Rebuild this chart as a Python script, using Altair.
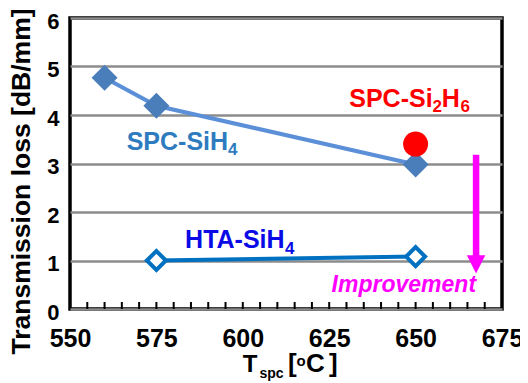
import altair as alt
import pandas as pd

# ---- data ----
spc_sih4_temp = [560, 575, 650]
spc_sih4_loss = [4.77, 4.19, 2.98]
hta_sih4_temp = [575, 650]
hta_sih4_loss = [1.0, 1.08]
spc_si2h6_temp = [650]
spc_si2h6_loss = [3.40]

x_ticks = [550, 575, 600, 625, 650, 675]
y_ticks = [0, 1, 2, 3, 4, 5, 6]
minor_ticks = [555, 560, 565, 570, 575, 580, 585, 590, 595, 600, 605, 610,
               615, 620, 625, 630, 635, 640, 645, 650, 655, 660, 665, 670]

# improvement arrow (data units)
arrow_x = [667.5]
arrow_top = [3.18]
arrow_shaft_end = [1.05]
arrow_head_y = [0.92]

# annotation labels (with subscripts as separate pieces)
lab_text = ["SPC-SiH", "4", "HTA-SiH", "4", "SPC-Si", "2", "H", "6"]
lab_x = [566.4, 595.7, 583.3, 612.2, 630.8, 654.9, 657.6, 663.0]
lab_y = [3.28, 3.175, 1.25, 1.134, 4.17, 4.07, 4.17, 4.07]
lab_size = [25, 17, 25, 17, 25, 17, 25, 17]
lab_color = ["#2e7bbf", "#2e7bbf", "#0a0ae6", "#0a0ae6",
             "#ff0000", "#ff0000", "#ff0000", "#ff0000"]

improve_text = ["Improvement"]
improve_x = [625.7]
improve_y = [0.35]

# x-axis title pieces (pixel positions relative to plot area)
xt_text = ["T", "spc", "[", "o", "C", "]"]
xt_px = [172.7, 189.5, 218, 226.5, 236, 259]
xt_py = [353.7, 360, 354, 348, 354, 354]
xt_size = [24, 14, 26, 15, 26, 26]

FONT = "Liberation Sans"
W, H = 432, 291

xs = alt.Scale(domain=[550, 675], nice=False, zero=False)
ys = alt.Scale(domain=[0, 6], nice=False)

x_axis = alt.Axis(values=x_ticks, grid=False, ticks=False, domain=False,
                  labelPadding=17, labelFontSize=25, labelFont=FONT,
                  labelFontWeight="bold", labelColor="black", labelFlush=False,
                  title=None)
y_axis = alt.Axis(values=y_ticks, grid=True, gridColor="#8c8c8c", gridWidth=2.5,
                  ticks=False, domain=False, labelPadding=11, labelFontSize=22,
                  labelFont=FONT, labelFontWeight="bold", labelColor="black",
                  labelOffset=3,
                  title="Transmission loss [dB/mm]", titleFont=FONT,
                  titleFontSize=26.5, titleFontWeight="bold", titleColor="black",
                  titleAngle=270, titleX=-49, titleY=163, titleAlign="center",
                  titleBaseline="middle")

spc_df = pd.DataFrame({"t": spc_sih4_temp, "loss": spc_sih4_loss})
hta_df = pd.DataFrame({"t": hta_sih4_temp, "loss": hta_sih4_loss})
si2_df = pd.DataFrame({"t": spc_si2h6_temp, "loss": spc_si2h6_loss})
minor_df = pd.DataFrame({"t": minor_ticks})
arrow_df = pd.DataFrame({"t": arrow_x, "top": arrow_top, "end": arrow_shaft_end,
                         "head": arrow_head_y})
lab_df = pd.DataFrame({"t": lab_x, "loss": lab_y, "text": lab_text,
                       "size": lab_size, "color": lab_color})
imp_df = pd.DataFrame({"t": improve_x, "loss": improve_y, "text": improve_text})
xt_df = pd.DataFrame({"px": xt_px, "py": xt_py, "text": xt_text, "size": xt_size})

base_axes = alt.Chart(spc_df).mark_point(opacity=0).encode(
    x=alt.X("t:Q", scale=xs, axis=x_axis),
    y=alt.Y("loss:Q", scale=ys, axis=y_axis),
)

minor = alt.Chart(minor_df).mark_rule(color="black", strokeWidth=2).encode(
    x=alt.X("t:Q", scale=xs),
    y=alt.value(H),
    y2=alt.value(H - 7),
)

spc_line = alt.Chart(spc_df).mark_line(color="#5b8fd8", strokeWidth=4).encode(
    x=alt.X("t:Q", scale=xs), y=alt.Y("loss:Q", scale=ys))
spc_pts = alt.Chart(spc_df).mark_point(shape="diamond", filled=True, size=676,
                                       color="#4a7ebb", opacity=1).encode(
    x=alt.X("t:Q", scale=xs), y=alt.Y("loss:Q", scale=ys))

hta_line = alt.Chart(hta_df).mark_line(color="#0070c0", strokeWidth=4).encode(
    x=alt.X("t:Q", scale=xs), y=alt.Y("loss:Q", scale=ys))
hta_pts = alt.Chart(hta_df).mark_point(shape="diamond", filled=False, size=361,
                                       fill="white", fillOpacity=1,
                                       stroke="#0070c0", strokeWidth=4,
                                       opacity=1).encode(
    x=alt.X("t:Q", scale=xs), y=alt.Y("loss:Q", scale=ys))

si2_pt = alt.Chart(si2_df).mark_point(shape="circle", filled=True, size=625,
                                      color="#ff0000", opacity=1).encode(
    x=alt.X("t:Q", scale=xs), y=alt.Y("loss:Q", scale=ys))

shaft = alt.Chart(arrow_df).mark_rule(color="#ff00ff", strokeWidth=6.5).encode(
    x=alt.X("t:Q", scale=xs), y=alt.Y("top:Q", scale=ys), y2="end:Q")
head = alt.Chart(arrow_df).mark_point(shape="M-1,-1L1,-1L0,1Z", filled=True,
                                      size=340, color="#ff00ff", opacity=1).encode(
    x=alt.X("t:Q", scale=xs), y=alt.Y("head:Q", scale=ys))

labels = alt.Chart(lab_df).mark_text(align="left", baseline="alphabetic",
                                     font=FONT, fontWeight="bold").encode(
    x=alt.X("t:Q", scale=xs), y=alt.Y("loss:Q", scale=ys),
    text="text:N",
    size=alt.Size("size:Q", scale=None, legend=None),
    color=alt.Color("color:N", scale=None, legend=None),
)

improve = alt.Chart(imp_df).mark_text(align="left", baseline="alphabetic",
                                      font=FONT, fontWeight="bold",
                                      fontStyle="italic", fontSize=23,
                                      color="#ff00ff").encode(
    x=alt.X("t:Q", scale=xs), y=alt.Y("loss:Q", scale=ys), text="text:N")

xtitle = alt.Chart(xt_df).mark_text(align="left", baseline="alphabetic",
                                    font=FONT, fontWeight="bold",
                                    color="black").encode(
    x=alt.X("px:Q", scale=None), y=alt.Y("py:Q", scale=None),
    text="text:N",
    size=alt.Size("size:Q", scale=None, legend=None),
)

chart = alt.layer(
    base_axes, minor, spc_line, hta_line, spc_pts, hta_pts, si2_pt,
    shaft, head, labels, improve, xtitle,
).properties(
    width=W, height=H,
    autosize=alt.AutoSizeParams(type="none"),
    padding={"left": 62, "top": 10, "right": 18, "bottom": 74},
    background="white",
).configure_view(
    stroke="black", strokeWidth=3.5,
)

chart.save("out.html", embed_options={"renderer": "svg", "actions": False})
